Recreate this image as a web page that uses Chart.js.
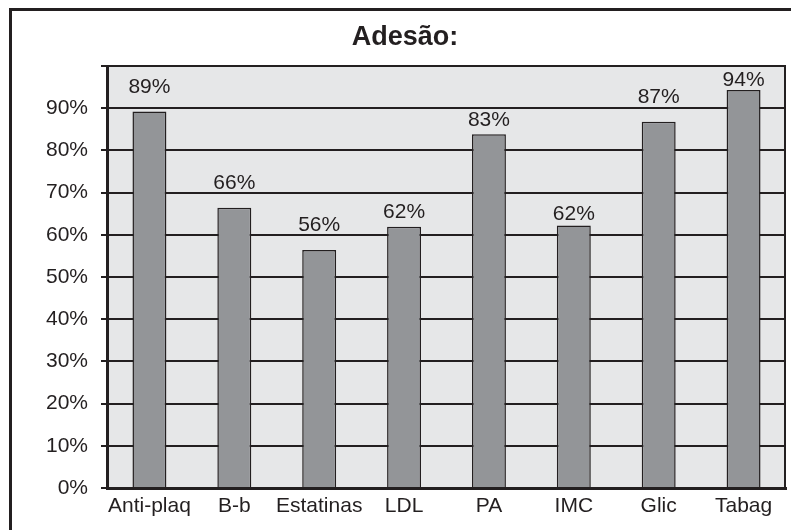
<!DOCTYPE html>
<html>
<head>
<meta charset="utf-8">
<title>Adesão</title>
<script src="https://cdn.jsdelivr.net/npm/chart.js@4.4.0/dist/chart.umd.min.js"></script>
<style>
  body { margin: 0; background: #ffffff; }
  #wrap { width: 791px; height: 530px; }
</style>
</head>
<body>
<div id="wrap"><canvas id="myChart" width="791" height="530"></canvas></div>
<script>
// dados
var categorias = ['Anti-plaq', 'B-b', 'Estatinas', 'LDL', 'PA', 'IMC', 'Glic', 'Tabag'];
var adesao = [89.2, 66.4, 56.4, 61.9, 83.8, 62.2, 86.8, 94.3];
var rotulos = ['89%', '66%', '56%', '62%', '83%', '62%', '87%', '94%'];
var ticksY = [0, 10, 20, 30, 40, 50, 60, 70, 80, 90];
var titulo = 'Adesão:';

var preto = '#231f20';
var fonte = '"Liberation Sans", Arial, Helvetica, sans-serif';

// distancia (px) entre o topo da barra e o centro do rotulo
var afastamento = [24, 25, 25, 15, 14, 11, 25, 10];

var moldura = {
  id: 'moldura',
  beforeDraw: function(chart) {
    var ctx = chart.ctx;
    var a = chart.chartArea;
    ctx.save();
    ctx.fillStyle = '#ffffff';
    ctx.fillRect(0, 0, chart.width, chart.height);
    ctx.fillStyle = '#e6e7e8';
    ctx.fillRect(a.left, a.top, a.right - a.left, a.bottom - a.top);
    ctx.strokeStyle = preto;
    ctx.lineWidth = 3;
    ctx.strokeRect(10.5, 9.5, 900, 700);
    // titulo (centrado na moldura, nao no canvas)
    ctx.fillStyle = preto;
    ctx.font = 'bold 27px ' + fonte;
    ctx.textAlign = 'center';
    ctx.textBaseline = 'middle';
    ctx.fillText(titulo, 405, 38);
    ctx.restore();
  },
  afterDatasetsDraw: function(chart) {
    var ctx = chart.ctx;
    var a = chart.chartArea;
    ctx.save();
    // borda direita da area
    ctx.strokeStyle = preto;
    ctx.lineWidth = 2;
    ctx.beginPath();
    ctx.moveTo(a.right - 1, a.top - 1);
    ctx.lineTo(a.right - 1, a.bottom);
    ctx.stroke();
    // rotulos das barras
    ctx.fillStyle = preto;
    ctx.font = '21px ' + fonte;
    ctx.textAlign = 'center';
    ctx.textBaseline = 'middle';
    chart.getDatasetMeta(0).data.forEach(function(bar, i) {
      ctx.fillText(rotulos[i], bar.x, bar.y - afastamento[i]);
    });
    ctx.restore();
  }
};

var ctx = document.getElementById('myChart');

var myChart = new Chart(ctx, {
  type: 'bar',
  data: {
    labels: categorias,
    datasets: [{
      label: 'Adesão',
      data: adesao,
      backgroundColor: '#939598',
      borderColor: preto,
      borderWidth: 1.5,
      barPercentage: 0.4,
      categoryPercentage: 1
    }]
  },
  options: {
    responsive: false,
    animation: false,
    layout: { padding: { top: 66, left: 0, right: 5, bottom: 0 } },
    plugins: {
      legend: { display: false },
      tooltip: { enabled: false },
      title: { display: false }
    },
    scales: {
      x: {
        grid: { display: false, drawTicks: false },
        border: { display: true, color: preto, width: 3 },
        ticks: {
          color: preto,
          padding: 6,
          maxRotation: 0,
          minRotation: 0,
          autoSkip: false,
          font: { family: fonte, size: 21 }
        },
        afterFit: function(scale) { scale.height = 42; }
      },
      y: {
        min: 0,
        max: 100,
        afterBuildTicks: function(scale) {
          scale.ticks = ticksY.concat([100]).map(function(v) { return { value: v }; });
        },
        grid: { color: preto, lineWidth: 2, tickLength: 6 },
        border: { display: true, color: preto, width: 3 },
        ticks: {
          color: preto,
          padding: 13,
          font: { family: fonte, size: 21 },
          callback: function(v) { return v >= 100 ? '' : v + '%'; }
        },
        afterFit: function(scale) { scale.width = 107; }
      }
    }
  },
  plugins: [moldura]
});
</script>
</body>
</html>
